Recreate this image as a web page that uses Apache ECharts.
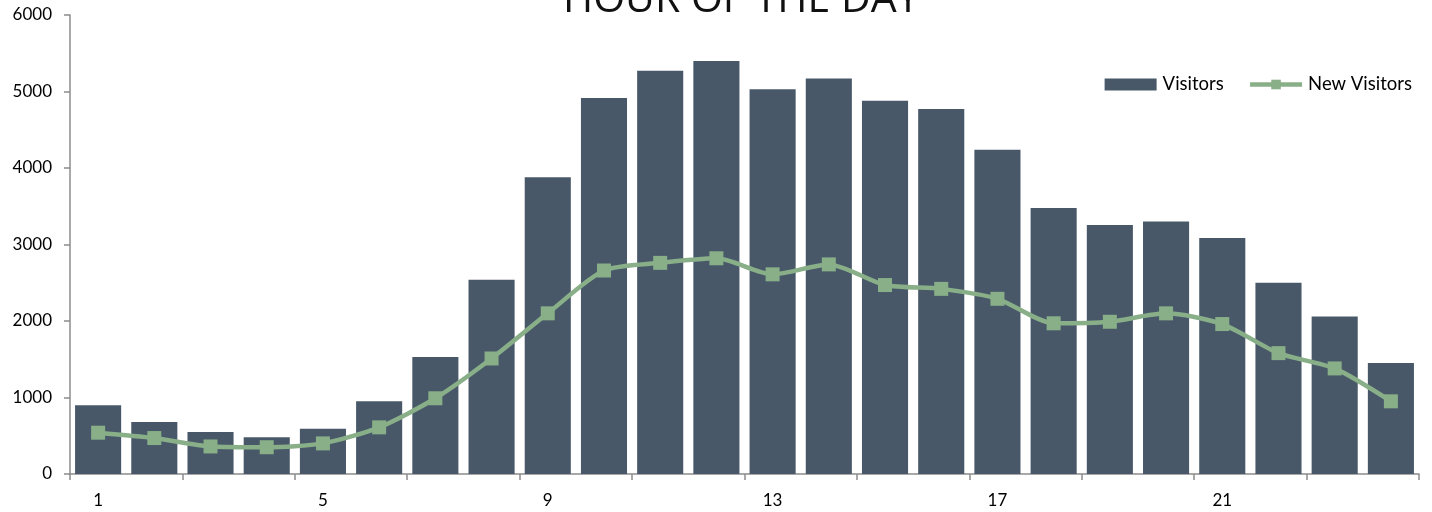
<!DOCTYPE html>
<html>
<head>
<meta charset="utf-8">
<script src="https://cdn.jsdelivr.net/npm/echarts@6/dist/echarts.min.js"></script>
<style>
  html, body { margin: 0; padding: 0; background: #fff; }
  #chart { width: 1432px; height: 512px; }
</style>
</head>
<body>
<div id="chart"></div>
<script>
// hours of the day
const hours = ['1','2','3','4','5','6','7','8','9','10','11','12','13','14','15','16','17','18','19','20','21','22','23','24'];
// values
const visitors = [900, 680, 550, 480, 590, 950, 1530, 2540, 3880, 4915, 5270, 5400, 5030, 5170, 4880, 4770, 4240, 3477, 3255, 3300, 3085, 2500, 2060, 1450];
const newVisitors = [540, 470, 360, 350, 400, 610, 990, 1510, 2100, 2660, 2760, 2820, 2610, 2740, 2470, 2420, 2290, 1970, 1990, 2100, 1960, 1580, 1380, 950];

const chart = echarts.init(document.getElementById('chart'));

const option = {
    animation: false,
    textStyle: { fontFamily: 'Lato' },
    title: {
        text: 'HOUR OF THE DAY',
        left: 558,
        top: -25,
        textStyle: { fontSize: 41, fontWeight: 'normal', color: '#111', fontFamily: 'Open Sans' }
    },
    legend: {
        right: 15,
        top: 70,
        itemWidth: 52,
        itemHeight: 12,
        itemGap: 24,
        textStyle: { fontSize: 18.5, color: '#000', padding: [0, 0, 0, 1] },
        data: [
            { name: 'Visitors', icon: 'rect' },
            { name: 'New Visitors', lineStyle: { width: 4.5 } }
        ]
    },
    grid: { left: 70, right: 13, top: 15, bottom: 38, containLabel: false },
    xAxis: {
        type: 'category',
        data: hours,
        axisLine: { lineStyle: { color: '#8c8c8c', width: 1.5 } },
        axisTick: { show: true, interval: 1, length: 6, lineStyle: { color: '#8c8c8c', width: 1.5 } },
        axisLabel: { interval: 3, color: '#000', fontSize: 17, margin: 18 }
    },
    yAxis: {
        type: 'value',
        min: 0,
        max: 6000,
        interval: 1000,
        axisLine: { show: true, lineStyle: { color: '#8c8c8c', width: 1.5 } },
        axisTick: { show: true, length: 6, lineStyle: { color: '#8c8c8c', width: 1.5 } },
        splitLine: { show: false },
        axisLabel: { color: '#000', fontSize: 17, margin: 18, formatter: v => String(v) }
    },
    series: [
        {
            name: 'Visitors',
            type: 'bar',
            data: visitors,
            barCategoryGap: '18%',
            itemStyle: { color: '#485869' }
        },
        {
            name: 'New Visitors',
            type: 'line',
            data: newVisitors,
            symbol: 'rect',
            symbolSize: 14,
            lineStyle: { color: '#88af88', width: 4.5 },
            itemStyle: { color: '#88af88' },
            smooth: 0.25
        }
    ]
};

chart.setOption(option);
</script>
</body>
</html>
